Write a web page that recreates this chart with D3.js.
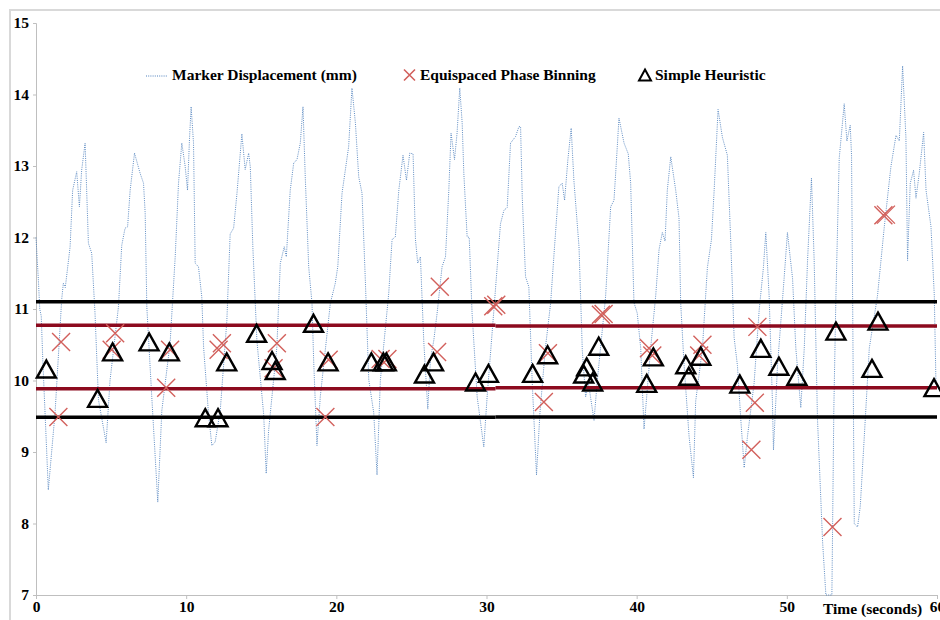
<!DOCTYPE html>
<html>
<head>
<meta charset="utf-8">
<script src="https://cdn.jsdelivr.net/npm/d3@7"></script>
<style>
  html, body { margin: 0; padding: 0; background: #fff; }
  svg { display: block; }
  text { font-family: "Liberation Serif", "Times New Roman", serif; font-weight: bold; fill: #000; }
</style>
</head>
<body>
<svg id="chart" width="940" height="620"></svg>
<script>
// ---------------- DATA ----------------
const xTicks = [0, 10, 20, 30, 40, 50, 60];
const yTicks = [7, 8, 9, 10, 11, 12, 13, 14, 15];

// Marker displacement trace (time s, displacement mm)
const traceT = [0,0.16,0.25,0.35,0.45,0.82,1.27,1.71,1.82,1.95,2.27,2.44,2.71,2.89,3.04,3.27,3.49,3.71,3.93,4.16,4.67,4.93,5.49,5.71,5.93,6.1,6.27,6.56,6.93,7.16,7.27,7.38,7.71,8.11,8.38,8.93,9.27,9.49,9.71,9.93,10.09,10.22,10.33,10.49,10.6,10.82,11.04,11.16,11.49,11.71,11.93,12.27,12.71,12.93,13.16,13.38,13.71,13.93,14.16,14.27,14.44,14.71,15.16,15.33,15.49,16.04,16.27,16.53,16.67,16.93,17.16,17.38,17.6,17.78,17.93,18.16,18.38,18.49,18.71,18.93,19.6,19.93,20.1,20.38,20.82,21.04,21.27,21.49,21.71,21.93,22.16,22.49,22.71,22.93,23.49,23.71,23.93,24.16,24.44,24.67,24.89,25.11,25.27,25.42,25.6,25.82,26.09,26.27,26.49,26.71,27.04,27.27,27.49,27.64,27.87,28.04,28.22,28.38,28.49,28.71,28.85,29.04,29.38,29.82,30.04,30.49,30.93,31.16,31.38,31.6,31.93,32.16,32.27,32.38,32.6,32.82,33.04,33.33,33.56,33.93,34.27,34.53,34.82,35.04,35.2,35.42,35.64,35.82,36.16,36.38,36.6,36.8,37.16,37.38,37.93,38.27,38.49,38.71,38.82,39.16,39.44,39.6,39.82,40.04,40.27,40.49,40.93,41.27,41.49,41.71,41.89,42.04,42.27,42.6,42.82,42.93,43.16,43.49,43.78,43.93,44.38,44.71,44.98,45.16,45.42,45.71,46.04,46.27,46.49,46.71,46.93,47.16,47.38,47.82,48.16,48.44,48.6,48.82,49.04,49.11,49.38,49.82,50.04,50.38,50.6,50.93,51.16,51.38,51.64,51.82,52.04,52.38,52.6,53.0,53.13,53.27,53.49,53.82,54.0,54.22,54.31,54.38,54.49,54.71,54.89,55.16,55.49,56.04,56.49,56.93,57.27,57.49,57.71,57.93,58.04,58.22,58.44,58.6,58.82,59.11,59.27,59.6,59.82,59.93];
const traceV = [12.0,11.4,11.0,10.9,10.3,8.47,9.55,11.13,11.36,11.3,11.87,12.66,12.92,12.43,12.94,13.32,11.92,11.78,10.94,9.73,9.13,10.0,11.03,11.89,12.13,12.15,12.66,13.18,12.9,12.76,12.34,11.03,9.77,8.3,9.58,10.52,11.73,12.76,13.32,13.0,12.66,13.37,13.83,13.32,11.64,11.59,11.17,10.47,9.53,9.09,9.14,9.58,10.84,12.05,12.13,12.61,13.45,12.95,13.18,12.99,11.87,10.56,9.53,8.7,9.3,10.47,11.64,11.87,11.73,12.66,13.04,13.09,13.32,13.83,12.85,11.59,11.08,10.28,9.09,9.77,11.08,11.36,11.6,12.62,13.27,14.09,13.6,12.85,12.62,11.41,10.01,9.55,8.68,10.0,11.22,11.97,12.01,12.66,13.15,12.8,13.18,13.17,11.97,11.64,11.73,10.56,9.6,10.3,10.56,10.94,11.59,11.73,12.66,13.46,13.09,13.46,14.09,13.6,12.9,12.01,12.0,10.94,9.77,9.07,9.77,10.98,12.19,12.38,12.42,13.32,13.41,13.55,13.55,12.57,11.45,11.31,10.0,8.68,9.55,10.47,11.08,11.87,12.71,12.76,12.52,13.09,13.53,12.8,11.87,10.42,9.77,9.95,9.44,10.0,11.17,12.43,12.52,13.27,13.67,13.32,13.17,12.76,11.09,10.94,10.45,9.32,10.45,11.19,11.83,12.07,11.95,12.66,13.13,12.66,12.27,11.09,10.21,9.22,8.64,9.71,10.45,11.58,11.97,12.66,13.79,13.4,13.15,11.92,10.6,10.21,9.47,8.78,9.22,9.96,10.99,11.58,12.07,11.19,9.71,9.03,10.21,11.43,12.07,11.43,10.45,9.62,10.45,11.68,12.83,11.68,9.47,7.75,7.0,7.0,9.6,11.19,13.11,13.87,13.35,13.57,13.15,11.19,8.0,7.95,8.24,9.22,10.45,11.19,12.15,12.99,13.43,13.35,14.4,13.4,11.68,12.76,12.94,12.55,12.9,13.47,12.66,12.15,11.19,9.96];

// Equispaced Phase Binning (crosses)
const binningT = [1.49,1.67,5.04,5.27,8.67,8.93,12.16,12.38,15.82,16.04,19.27,19.49,22.95,23.4,26.71,26.89,30.45,30.65,33.82,34.09,37.62,37.8,40.82,41.04,44.16,44.38,47.64,47.87,48.04,53.04,56.43,56.6];
const binningV = [9.49,10.54,10.43,10.66,9.9,10.43,10.43,10.52,10.17,10.52,9.49,10.29,10.3,10.3,10.4,11.31,11.04,11.06,9.7,10.38,10.92,10.93,10.45,10.35,10.35,10.5,9.03,9.69,10.75,7.95,12.31,12.32];

// Simple Heuristic (triangles)
const heuristicT = [0.69,4.1,5.1,7.53,8.88,11.27,12.12,12.7,14.69,15.72,15.93,18.48,19.45,22.33,23.13,23.33,25.87,26.47,29.27,30.13,33.07,34.07,36.47,36.67,37.07,37.47,40.67,41.11,43.27,43.47,44.27,46.87,48.27,49.47,50.67,53.27,55.67,56.07,59.8];
const heuristicV = [10.16,9.75,10.4,10.54,10.4,9.48,9.48,10.26,10.66,10.28,10.14,10.8,10.26,10.26,10.26,10.26,10.09,10.26,9.98,10.1,10.1,10.36,10.09,10.19,9.98,10.48,9.96,10.33,10.22,10.06,10.34,9.95,10.45,10.2,10.06,10.69,10.17,10.83,9.9];

// Threshold lines, two halves of the acquisition
const segmentStart = [0, 30.6];
const segmentEnd = [30.6, 60];
const upperBlack = [11.1, 11.1];
const upperRed = [10.772, 10.762];
const lowerRed = [9.885, 9.899];
const lowerBlack = [9.485, 9.49];

const legendLabels = ["Marker Displacement (mm)", "Equispaced Phase Binning", "Simple Heuristic"];
const xTitle = "Time (seconds)";

// ---------------- CHART ----------------
const svg = d3.select("#chart");
svg.append("rect").attr("width", 940).attr("height", 620).attr("fill", "#fff");
// outer chart border
svg.append("rect").attr("x", 10).attr("y", 10).attr("width", 940).attr("height", 620)
  .attr("fill", "none").attr("stroke", "#d9d9d9").attr("stroke-width", 2);

const x = d3.scaleLinear().domain([0, 60]).range([36, 937]);
const y = d3.scaleLinear().domain([7, 15]).range([595, 23]);

const FONT = "15.5px";

// y axis
const yAxis = svg.append("g").attr("transform", `translate(${x(0)},0)`)
  .call(d3.axisLeft(y).tickValues(yTicks).tickFormat(d3.format("d")).tickSize(3).tickPadding(4));
yAxis.select(".domain").attr("stroke", "#bfbfbf");
yAxis.selectAll(".tick line").attr("stroke", "#bfbfbf");
yAxis.selectAll("text").style("font-size", FONT).attr("font-family", null).attr("fill", "#000");

// x axis
const xAxis = svg.append("g").attr("transform", `translate(0,${y(7)})`)
  .call(d3.axisBottom(x).tickValues(xTicks).tickFormat(d3.format("d")).tickSize(4).tickPadding(2));
xAxis.select(".domain").attr("stroke", "#bfbfbf");
xAxis.selectAll(".tick line").attr("stroke", "#bfbfbf");
xAxis.selectAll("text").style("font-size", FONT).attr("font-family", null).attr("fill", "#000");

// trace
const trace = traceT.map((t, i) => [t, traceV[i]]);
svg.append("path").datum(trace)
  .attr("fill", "none").attr("stroke", "#4f81bd").attr("stroke-width", 1)
  .attr("stroke-dasharray", "1,1.2").attr("opacity", 0.9)
  .attr("d", d3.line().x(d => x(d[0])).y(d => y(Math.max(7, d[1]))));

// thresholds
function thresholds(vals, color) {
  segmentStart.forEach((s, i) => {
    svg.append("line")
      .attr("x1", x(s)).attr("x2", x(segmentEnd[i]))
      .attr("y1", y(vals[i])).attr("y2", y(vals[i]))
      .attr("stroke", color).attr("stroke-width", 3.5);
  });
}
thresholds(upperBlack, "#000");
thresholds(lowerBlack, "#000");
thresholds(upperRed, "#8c0a1e");
thresholds(lowerRed, "#8c0a1e");

// crosses
const cs = 9;
const crossPath = `M${-cs},${-cs}L${cs},${cs}M${-cs},${cs}L${cs},${-cs}`;
svg.append("g").selectAll("path").data(binningT).join("path")
  .attr("transform", (t, i) => `translate(${x(t)},${y(binningV[i])})`)
  .attr("d", crossPath).attr("fill", "none").attr("stroke", "#d2605c").attr("stroke-width", 1.4);

// triangles
const triPath = "M0,-8.5L9.5,8.5L-9.5,8.5Z";
svg.append("g").selectAll("path").data(heuristicT).join("path")
  .attr("transform", (t, i) => `translate(${x(t)},${y(heuristicV[i])})`)
  .attr("d", triPath).attr("fill", "none").attr("stroke", "#000").attr("stroke-width", 2.4)
  .attr("stroke-linejoin", "miter");

// legend
const ly = 75;
const legend = svg.append("g");
legend.append("line").attr("x1", 146).attr("x2", 168).attr("y1", ly + 1).attr("y2", ly + 1)
  .attr("stroke", "#4f81bd").attr("stroke-width", 1).attr("stroke-dasharray", "1,1.2");
legend.append("text").attr("x", 172).attr("y", ly + 5).style("font-size", FONT).text(legendLabels[0]);
legend.append("path").attr("transform", `translate(409.5,${ly})`)
  .attr("d", "M-5.5,-5.5L5.5,5.5M-5.5,5.5L5.5,-5.5").attr("stroke", "#d2605c").attr("stroke-width", 1.6).attr("fill", "none");
legend.append("text").attr("x", 420).attr("y", ly + 5).style("font-size", FONT).text(legendLabels[1]);
legend.append("path").attr("transform", `translate(645,${ly})`)
  .attr("d", "M0,-5.5L6,5.5L-6,5.5Z").attr("stroke", "#000").attr("stroke-width", 2).attr("fill", "none");
legend.append("text").attr("x", 655).attr("y", ly + 5).style("font-size", FONT).text(legendLabels[2]);

// x axis title
svg.append("text").attr("x", 823).attr("y", 614).style("font-size", FONT).text(xTitle);
</script>
</body>
</html>
